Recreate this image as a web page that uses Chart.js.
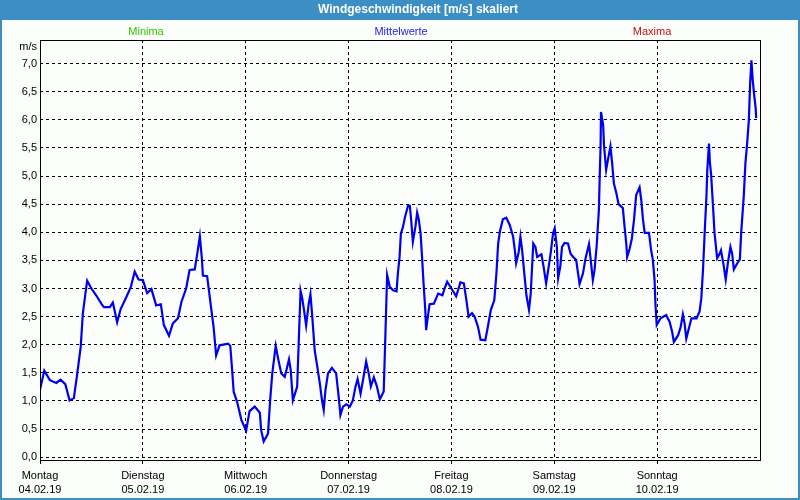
<!DOCTYPE html>
<html>
<head>
<meta charset="utf-8">
<script src="https://cdn.jsdelivr.net/npm/chart.js@4"></script>
<style>
  html, body { margin: 0; padding: 0; background: #fbfdfb; }
  #wrap { width: 800px; height: 500px; }
</style>
</head>
<body>
<div id="wrap"><canvas id="windChart" width="800" height="500"></canvas></div>
<script>
// Stunden ab Montag 00:00 und Windgeschwindigkeit (Mittelwerte) in m/s
const stunden = [
  0, 1, 2.3, 3.8, 4.8, 5.9, 6.9, 7.9, 8.7, 9.5, 10, 10.6, 11, 12, 13.1, 14.3, 14.9, 16.3, 17, 18, 18.8, 20.1, 21.2, 22.1, 23,
  24, 25, 26, 27.1, 28.2, 28.9, 30.1, 31, 32.2, 33, 34.1, 34.9, 36.1, 36.7, 37.3, 37.8, 38, 39, 39.8, 40.5, 41.1, 41.9, 43.9, 44.4, 44.8, 45.2, 46, 47,
  48.1, 48.9, 50.1, 51.3, 51.6, 52.2, 53.2, 53.7, 54.2, 55, 55.7, 56.3, 57.1, 57.6, 58.1, 58.5, 59, 60, 60.4, 60.8, 61.2, 61.6, 62.1, 62.7, 63.1, 63.5,
  64.1, 64.7, 65.3, 65.8, 66.2, 66.6, 67.2, 68.1, 69.1, 69.7, 70.1, 70.7, 71.5,
  72.3, 73, 73.6, 74.1, 74.8, 75.5, 76.1, 76.7, 77.2, 77.9, 78.6, 79.3, 80.2, 80.6, 81, 81.6, 82.4, 83.2, 83.5, 83.9, 84.2, 84.7, 85.2, 85.9, 86.3,
  86.6, 87, 87.6, 88, 88.4, 88.8, 89.1, 89.5, 89.9, 90.1, 90.5, 90.9, 91.9, 92.9, 93.9, 94.4, 95,
  96, 97.1, 98.1, 98.9, 99.5, 100, 100.8, 101.4, 102.2, 102.8, 103.9, 104.5, 105.2, 106, 106.5, 106.9, 107.3, 108, 108.8, 109.6, 110.4, 110.8,
  111.1, 111.7, 112.1, 112.5, 113, 113.5, 114.1, 114.5, 115.1, 115.6, 116, 117, 117.5, 118.1, 118.7, 119.2, 119.7,
  120.1, 120.6, 120.9, 121.4, 121.8, 122.4, 123.2, 123.8, 124.4, 125.1, 125.9, 126.7, 127.3, 128.1, 128.5, 129, 129.4, 129.9, 130.4, 130.6, 130.8,
  130.9, 131.4, 131.6, 132.1, 132.5, 133.1, 133.5, 133.9, 134.5, 135, 136, 136.4, 136.8, 137, 137.6, 138.1, 138.6, 139.1, 139.9, 140.3, 140.7,
  141.1, 142.1, 142.6, 143, 143.4, 143.6, 143.9, 144.8, 146.1, 146.9, 147.5, 147.9, 148.9, 149.5, 150, 150.4, 150.8, 151.4, 152, 153.2, 153.9,
  154.3, 154.7, 155.1, 155.5, 155.7, 156.1, 156.3, 156.6, 157, 157.4, 158, 158.6, 158.9, 159.5, 160, 160.5, 161.1, 161.5, 161.9, 162.7, 163.3,
  163.6, 164.2, 164.6, 165, 165.4, 165.7, 166, 166.3, 166.6, 167, 167.1
];
const werte = [
  1.20, 1.54, 1.37, 1.32, 1.38, 1.30, 1.01, 1.05, 1.49, 1.96, 2.56, 2.91, 3.14, 3.00, 2.88, 2.73, 2.67, 2.67, 2.75, 2.40, 2.63, 2.84, 3.03, 3.30, 3.16,
  3.15, 2.92, 2.99, 2.70, 2.72, 2.35, 2.16, 2.38, 2.47, 2.76, 3.00, 3.33, 3.34, 3.62, 3.93, 3.51, 3.23, 3.22, 2.73, 2.32, 1.81, 1.99, 2.02, 1.98, 1.58, 1.16, 0.98, 0.66,
  0.47, 0.82, 0.90, 0.79, 0.48, 0.28, 0.42, 1.01, 1.49, 1.98, 1.70, 1.49, 1.43, 1.58, 1.74, 1.55, 1.01, 1.25, 2.11, 2.96, 2.82, 2.62, 2.34, 2.73, 2.90, 2.53,
  1.90, 1.61, 1.31, 1.01, 0.84, 1.19, 1.49, 1.59, 1.49, 1.07, 0.75, 0.90, 0.94,
  0.90, 1.01, 1.25, 1.39, 1.13, 1.43, 1.70, 1.49, 1.26, 1.42, 1.26, 1.03, 1.17, 2.20, 3.24, 3.03, 2.97, 2.95, 3.27, 3.56, 3.97, 4.10, 4.28, 4.48, 4.47,
  4.22, 3.83, 4.10, 4.35, 4.22, 3.98, 3.62, 3.09, 2.62, 2.26, 2.50, 2.72, 2.73, 2.91, 2.88, 3.00, 3.12,
  3.00, 2.86, 3.11, 3.09, 2.79, 2.50, 2.56, 2.50, 2.32, 2.09, 2.08, 2.32, 2.62, 2.79, 3.27, 3.80, 4.01, 4.23, 4.26, 4.13, 3.92, 3.68,
  3.45, 3.65, 3.92, 3.68, 3.27, 2.88, 2.62, 2.91, 3.80, 3.74, 3.56, 3.61, 3.39, 3.09, 3.39, 3.65, 3.98,
  4.07, 3.74, 3.18, 3.39, 3.74, 3.81, 3.80, 3.62, 3.56, 3.51, 3.08, 3.27, 3.54, 3.79, 3.51, 3.15, 3.33, 3.77, 4.39, 4.99, 5.52,
  6.14, 5.91, 5.55, 5.11, 5.28, 5.53, 5.23, 4.87, 4.69, 4.50, 4.43, 4.10, 3.80, 3.56, 3.71, 3.89, 4.22, 4.66, 4.80, 4.57, 4.22,
  3.99, 3.99, 3.68, 3.51, 3.15, 2.73, 2.35, 2.47, 2.53, 2.41, 2.23, 2.05, 2.17, 2.32, 2.54, 2.38, 2.11, 2.29, 2.47, 2.47, 2.59,
  2.82, 3.33, 4.01, 4.63, 5.11, 5.58, 5.25, 5.02, 4.51, 3.98, 3.54, 3.62, 3.68, 3.42, 3.16, 3.45, 3.74, 3.62, 3.34, 3.45, 3.52,
  3.98, 4.63, 5.23, 5.58, 6.00, 6.65, 7.06, 6.71, 6.47, 6.20, 6.03
];

const tage = ["Montag", "Dienstag", "Mittwoch", "Donnerstag", "Freitag", "Samstag", "Sonntag"];
const daten = ["04.02.19", "05.02.19", "06.02.19", "07.02.19", "08.02.19", "09.02.19", "10.02.19"];
const tagTicks = [0, 24, 48, 72, 96, 120, 144, 168];
const yTicks = [0, 0.5, 1, 1.5, 2, 2.5, 3, 3.5, 4, 4.5, 5, 5.5, 6, 6.5, 7];

const schrift = "'Liberation Sans', Arial, sans-serif";

const rahmenPlugin = {
  id: "rahmen",
  beforeDraw(chart) {
    const { ctx, width, height } = chart;
    ctx.save();
    ctx.fillStyle = "#fbfdfb";
    ctx.fillRect(0, 0, width, height);
    ctx.restore();
  },
  afterDraw(chart) {
    const { ctx, width, height, chartArea } = chart;
    ctx.save();
    // Fensterrahmen + Titelleiste
    ctx.fillStyle = "#3c8fc4";
    ctx.fillRect(0, 0, width, 20);
    ctx.fillRect(0, 0, 2, height);
    ctx.fillRect(width - 2, 0, 2, height);
    ctx.fillRect(0, height - 2, width, 2);

    ctx.fillStyle = "#ffffff";
    ctx.font = "bold 12px " + schrift;
    ctx.textAlign = "center";
    ctx.textBaseline = "middle";
    ctx.fillText("Windgeschwindigkeit [m/s] skaliert", 418, 10);

    // Legende oben
    ctx.font = "11px " + schrift;
    ctx.fillStyle = "#33c400";
    ctx.fillText("Minima", 146, 32);
    ctx.fillStyle = "#2222ee";
    ctx.fillText("Mittelwerte", 401, 32);
    ctx.fillStyle = "#c41010";
    ctx.fillText("Maxima", 652, 32);

    ctx.fillStyle = "#000000";
    ctx.textAlign = "right";
    ctx.fillText("m/s", 37, 47);

    // Plotrahmen
    ctx.strokeStyle = "#000000";
    ctx.lineWidth = 1;
    ctx.strokeRect(chartArea.left + 0.5, chartArea.top + 0.5,
      chartArea.right - chartArea.left, chartArea.bottom - chartArea.top);
    ctx.restore();
  },
};

const ctx = document.getElementById("windChart").getContext("2d");

new Chart(ctx, {
  type: "line",
  data: {
    datasets: [
      {
        label: "Mittelwerte",
        data: stunden.map((h, i) => ({ x: h, y: werte[i] })),
        borderColor: "#0000f0",
        borderWidth: 2.2,
        pointRadius: 0,
        tension: 0,
        fill: false,
      },
    ],
  },
  options: {
    responsive: false,
    animation: false,
    devicePixelRatio: 1,
    layout: { padding: { top: 40, right: 40, left: 0, bottom: 0 } },
    plugins: {
      legend: { display: false },
      tooltip: { enabled: false },
    },
    scales: {
      x: {
        type: "linear",
        min: 0,
        max: 168,
        afterBuildTicks: (scale) => {
          scale.ticks = tagTicks.map((v) => ({ value: v }));
        },
        afterFit: (scale) => {
          scale.height = 40;
        },
        ticks: {
          autoSkip: false,
          maxRotation: 0,
          padding: 5,
          color: "#000000",
          font: { family: schrift, size: 11, lineHeight: 1.27 },
          callback: (value) => {
            const i = Math.round(value / 24);
            return i < tage.length ? [tage[i], daten[i]] : "";
          },
        },
        grid: {
          color: "#000000",
          lineWidth: 1,
          tickLength: 4,
          tickColor: (c) => (c.tick && c.tick.value === 168 ? "rgba(0,0,0,0)" : "#000000"),
        },
        border: { display: false, dash: [3, 3] },
      },
      y: {
        min: -0.05,
        max: 7.42,
        afterBuildTicks: (scale) => {
          scale.ticks = yTicks.map((v) => ({ value: v }));
        },
        afterFit: (scale) => {
          scale.width = 40;
        },
        ticks: {
          padding: 3,
          color: "#000000",
          font: { family: schrift, size: 11 },
          callback: (value) => value.toFixed(1).replace(".", ","),
        },
        grid: {
          color: "#000000",
          lineWidth: 1,
          drawTicks: false,
        },
        border: { display: false, dash: [3, 3] },
      },
    },
  },
  plugins: [rahmenPlugin],
});
</script>
</body>
</html>
